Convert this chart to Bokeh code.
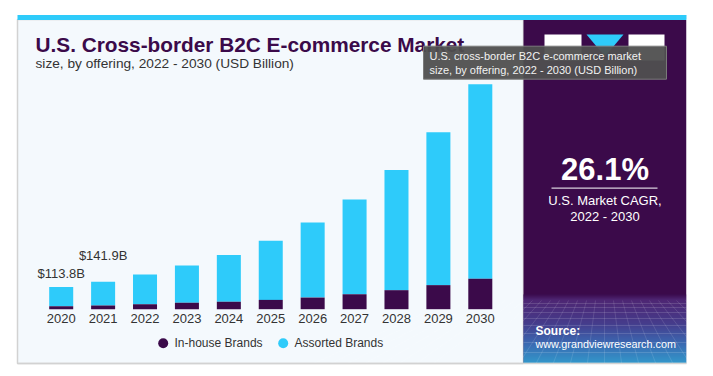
from bokeh.plotting import figure
from bokeh.models import Range1d, ColumnDataSource
from bokeh.core.properties import value
from bokeh.embed import file_html
from bokeh.resources import INLINE

# ---- data ----
years = [2020, 2021, 2022, 2023, 2024, 2025, 2026, 2027, 2028, 2029, 2030]
inhouse = [15.5, 19.0, 26, 33, 38, 48, 60, 77, 98, 124, 157]
assorted = [98.3, 122.9, 153, 192, 242, 305, 387, 489, 619, 788, 1003]
year_labels = [str(y) for y in years]
series_names = ["In-house Brands", "Assorted Brands"]
title = "U.S. Cross-border B2C E-commerce Market"
subtitle = "size, by offering, 2022 - 2030 (USD Billion)"
cagr = "26.1%"
cagr_lines = ["U.S. Market CAGR,", "2022 - 2030"]
tooltip_lines = ["U.S. cross-border B2C e-commerce market",
                 "size, by offering, 2022 - 2030 (USD Billion)"]

PURPLE = "#3b0a4a"
CYAN = "#2ecbfa"
FONT = value("Liberation Sans")

W, H = 713, 376
p = figure(width=W, height=H, output_backend="svg", toolbar_location=None,
           x_range=Range1d(0, W), y_range=Range1d(H, 0),
           x_axis_type=None, y_axis_type=None, min_border=0,
           outline_line_color=None, background_fill_color="white",
           border_fill_color="white")
p.grid.visible = False

# data ranges mapped on the full canvas
px_per_year = 41.91
x0 = 2020 - 60.7 / px_per_year
p.extra_x_ranges = {"yr": Range1d(x0, x0 + W / px_per_year)}
px_per_bn = 0.194
base = 308.7
p.extra_y_ranges = {"bn": Range1d(-(H - base) / px_per_bn, base / px_per_bn)}

# ---- panels ----
p.quad(left=[17], right=[523], top=[19], bottom=[363], fill_color="#f4f9fd",
       line_color="#d2d2d2", line_width=1.5)
p.quad(left=[17], right=[686], top=[14.5], bottom=[19.5], fill_color=CYAN, line_color=None)
p.quad(left=[523], right=[686], top=[19.5], bottom=[363], fill_color=PURPLE, line_color=None)

# gradient at bottom of right panel
def lerp(c1, c2, t):
    return "#%02x%02x%02x" % tuple(int(round(a + (b - a) * t)) for a, b in zip(c1, c2))

stops = [(294, (0x3d, 0x0e, 0x52)), (299, (0x55, 0x30, 0x80)), (322, (0x4a, 0x4c, 0xa0)),
         (342, (0x3c, 0x86, 0xd2)), (363, (0x30, 0xc8, 0xf6))]
ls, rs, ts, bs, cs = [], [], [], [], []
for i in range(len(stops) - 1):
    ya, ca = stops[i]
    yb, cb = stops[i + 1]
    n = int(yb - ya)
    for k in range(n):
        ls.append(523); rs.append(686)
        ts.append(ya + k); bs.append(ya + k + 1.05)
        cs.append(lerp(ca, cb, k / n))
p.quad(left=ls, right=rs, top=ts, bottom=bs, fill_color=cs, line_color=None)
# faint perspective grid
for yy in [303, 307, 312, 318, 325, 333, 342, 352, 362]:
    p.line([523, 686], [yy, yy], line_color="white", line_alpha=0.18, line_width=0.8)
for k in range(-8, 26):
    xt = 523 + k * 9
    xb = 604 + (xt - 604) * 1.9
    p.line([xt, xb], [300, 363], line_color="white", line_alpha=0.15, line_width=0.8)
p.quad(left=[686], right=[713], top=[19], bottom=[376], fill_color="white", line_color=None)
p.quad(left=[523], right=[713], top=[363], bottom=[376], fill_color="white", line_color=None)
p.line([17, 686], [363, 363], line_color="#d2d2d2", line_width=1.5)

# icons top of right panel
p.quad(left=[544], right=[581], top=[34], bottom=[60], fill_color="white", line_color=None)
p.quad(left=[628], right=[664], top=[34], bottom=[60], fill_color="white", line_color=None)
p.patch([586, 623, 604.5], [34, 34, 56], fill_color=CYAN, line_color=None)

# ---- title ----
p.text(x=[35], y=[43.5], text=[title], text_font=FONT, text_font_style="bold",
       text_font_size="20.8px", text_color=PURPLE, text_baseline="middle")
p.text(x=[35], y=[63], text=[subtitle], text_font=FONT, text_font_size="13.7px",
       text_color="#333333", text_baseline="middle")

# ---- bars ----
totals = [a + b for a, b in zip(inhouse, assorted)]
src = ColumnDataSource(dict(x=years, ih=inhouse, tot=totals, zero=[0] * len(years)))
p.vbar(x="x", bottom="ih", top="tot", width=0.573, source=src, fill_color=CYAN,
       line_color=None, x_range_name="yr", y_range_name="bn")
p.vbar(x="x", bottom="zero", top="ih", width=0.573, source=src, fill_color=PURPLE,
       line_color=None, x_range_name="yr", y_range_name="bn")

# value labels
p.text(x=[years[0]], y=[totals[0]], text=["$%.1fB" % totals[0]], y_offset=-14,
       text_font=FONT, text_font_size="13px", text_color="#333333",
       text_align="center", text_baseline="middle", x_range_name="yr", y_range_name="bn")
p.text(x=[years[1]], y=[totals[1]], text=["$%.1fB" % totals[1]], y_offset=-26,
       text_font=FONT, text_font_size="13px", text_color="#333333",
       text_align="center", text_baseline="middle", x_range_name="yr", y_range_name="bn")

# year labels
p.text(x=years, y=[317.7] * len(years), text=year_labels, text_font=FONT,
       text_font_size="13px", text_color="#333333", text_align="center",
       text_baseline="middle", x_range_name="yr")

# legend
p.scatter(x=[162.7, 282.7], y=[342.7, 342.7], size=10, marker="circle",
          fill_color=[PURPLE, CYAN], line_color=None)
p.text(x=[174, 294], y=[342.7, 342.7], text=series_names, text_font=FONT,
       text_font_size="12px", text_color="#333333", text_baseline="middle")

# ---- right panel texts ----
p.text(x=[604.5], y=[169], text=[cagr], text_font=FONT, text_font_style="bold",
       text_font_size="31px", text_color="white", text_align="center", text_baseline="middle")
p.line([551, 657], [187.7, 187.7], line_color="#d8d0dc", line_width=1.2)
p.text(x=[604.5, 604.5], y=[200, 215.5], text=cagr_lines, text_font=FONT,
       text_font_size="13px", text_color="white", text_align="center", text_baseline="middle")
p.text(x=[535], y=[330], text=["Source:"], text_font=FONT, text_font_style="bold",
       text_font_size="12px", text_color="white", text_baseline="middle")
p.text(x=[535], y=[343], text=["www.grandviewresearch.com"], text_font=FONT,
       text_font_size="10.8px", text_color="white", text_baseline="middle")

# ---- tooltip overlay ----
p.quad(left=[423], right=[666], top=[45.7], bottom=[78.7], fill_color="#4f4f4f",
       fill_alpha=0.95, line_color="#7a7a7a", line_width=1)
p.text(x=[429, 429], y=[55.5, 69.5], text=tooltip_lines, text_font=FONT,
       text_font_size="11px", text_color="#f2f2f2", text_baseline="middle")

open("out.html", "w").write(file_html(p, INLINE))
